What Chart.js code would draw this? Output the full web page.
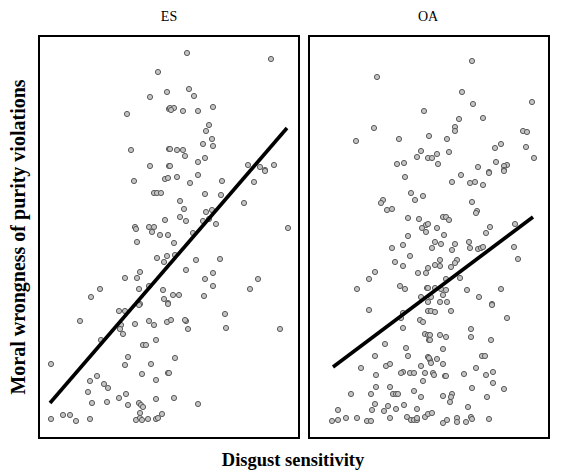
<!DOCTYPE html>
<html>
<head>
<meta charset="utf-8">
<script src="https://cdn.jsdelivr.net/npm/chart.js@4.4.1/dist/chart.umd.min.js"></script>
<style>
  body { margin: 0; background: #fff; width: 568px; height: 472px; position: relative; overflow: hidden; font-family: "Liberation Serif", "Times New Roman", serif; }
  .panel { position: absolute; top: 35px; height: 400px; border: 2px solid #000; }
  .panel canvas { display: block; }
  .title { position: absolute; top: 9px; font-size: 14px; text-align: center; width: 100px; }
  #ylab { position: absolute; left: 18px; top: 237px; font-size: 20px; font-weight: bold; white-space: nowrap;
          transform: translate(-50%, -50%) rotate(-90deg); }
  #xlab { position: absolute; left: 0; width: 586px; top: 450px; font-size: 18.5px; font-weight: bold; text-align: center; }
</style>
</head>
<body>
<div class="title" style="left:119px">ES</div>
<div class="title" style="left:378px">OA</div>
<div class="panel" style="left:38px;width:258px"><canvas id="esChart" width="258" height="400"></canvas></div>
<div class="panel" style="left:308px;width:238px"><canvas id="oaChart" width="238" height="400"></canvas></div>
<div id="ylab">Moral wrongness of purity violations</div>
<div id="xlab">Disgust sensitivity</div>
<script>
// values, in picture units (x grows right, y grows down)
const esX = [158,167,150,169,127,131,169,150,169,187,271,189,194,170,174,171,183,198,213,209,206,212,203,213,170,177,183,185,170,198,205,248,260,265,274,
  134,165,168,154,157,161,135,136,149,154,152,160,165,168,137,157,164,167,140,137,125,139,149,100,91,163,164,140,168,
  177,198,190,222,265,254,205,221,244,180,184,206,212,180,186,203,209,216,288,193,174,175,196,220,186,213,205,213,258,250,173,179,204,168,
  119,125,139,80,121,120,123,135,149,154,167,101,143,146,156,128,125,51,151,97,142,168,90,104,108,156,88,126,119,107,92,128,139,141,143,156,51,63,70,76,90,140,136,140,142,148,156,158,162,
  171,186,185,188,225,226,280,175,169,174,198];
const esY = [72,92,97,109,114,150,149,166,166,53,59,89,96,108,108,110,111,111,107,125,131,139,144,146,149,150,150,156,166,162,158,165,167,170,165,
  181,179,178,193,193,193,227,229,227,227,232,235,220,235,242,258,262,256,272,278,278,289,286,289,297,290,299,304,303,
  177,175,183,181,171,182,194,195,203,201,209,212,210,217,221,221,219,224,228,233,243,255,260,259,270,273,279,286,279,289,295,295,296,304,
  311,311,305,321,325,329,334,324,321,325,322,340,345,345,340,357,365,364,364,376,374,373,381,384,388,380,392,394,398,402,403,405,403,405,407,399,419,415,415,421,419,413,420,418,420,419,419,418,414,
  320,321,320,329,314,328,329,358,373,398,404];
const esLineX = [50, 287];
const esLineY = [403, 128];

const oaX = [377,424,374,356,399,429,421,417,428,397,404,
  472,462,473,532,459,483,455,455,447,523,527,501,495,526,449,437,432,438,534,478,496,507,504,504,489,
  405,411,415,423,383,381,387,392,408,419,426,422,426,408,392,403,410,395,403,428,375,369,418,426,357,400,405,427,421,428,
  461,489,504,452,470,475,483,472,477,476,443,446,449,428,437,490,515,444,486,435,441,432,455,469,470,452,478,481,483,514,518,440,457,455,435,440,451,446,460,435,441,446,428,467,501,443,479,431,440,447,492,
  369,403,401,428,420,423,403,425,428,429,385,406,375,408,428,430,361,386,390,421,403,401,410,414,425,376,423,376,390,393,396,398,414,421,371,351,375,388,372,384,396,404,417,338,332,338,346,357,367,371,390,407,411,414,417,417,425,428,
  492,431,435,451,507,471,471,491,430,430,440,446,443,482,485,429,431,437,443,476,433,434,445,446,464,486,493,493,504,472,443,452,451,450,487,468,432,443,447,457,457,466,471,472,489];
const oaY = [77,111,128,141,139,136,151,157,158,164,163,
  61,92,104,102,119,118,127,131,139,131,132,144,148,147,152,154,158,164,158,167,162,165,166,170,172,
  177,193,200,196,200,203,210,209,218,219,225,228,232,236,248,245,256,262,266,268,272,279,273,273,289,286,289,288,297,302,
  175,173,171,182,183,182,185,202,211,213,217,217,220,224,228,227,224,235,233,242,244,248,244,242,248,250,249,248,247,247,259,260,260,263,265,266,267,279,278,288,289,290,288,290,289,295,297,297,302,302,304,
  310,313,318,311,320,322,328,334,335,340,344,348,356,356,357,360,368,366,364,366,372,373,373,373,373,375,381,387,387,394,394,394,391,397,394,394,404,406,410,411,409,405,409,410,421,420,418,418,421,421,418,417,420,420,420,418,417,414,
  305,311,312,311,318,329,337,340,335,340,335,337,349,356,356,358,363,359,364,368,373,375,376,376,374,375,372,383,389,388,396,394,397,402,397,407,413,423,420,418,422,422,417,419,419];
const oaLineX = [333, 533];
const oaLineY = [367, 217];

function toPoints(xs, ys) {
  return xs.map((x, i) => ({ x: x, y: ys[i] }));
}

function createPanel(id, xs, ys, lineX, lineY, xMin, xMax) {
  const ctx = document.getElementById(id);
  return new Chart(ctx, {
    type: "scatter",
    data: {
      datasets: [
        {
          label: "Participants",
          data: toPoints(xs, ys),
          pointRadius: 2.6,
          pointBorderWidth: 1,
          pointBackgroundColor: "#c4c4c4",
          pointBorderColor: "#5a5a5a",
          order: 2,
        },
        {
          label: "Fit",
          type: "line",
          data: toPoints(lineX, lineY),
          borderColor: "#000",
          borderWidth: 3.6,
          pointRadius: 0,
          fill: false,
          order: 1,
        },
      ],
    },
    options: {
      responsive: false,
      animation: false,
      layout: { padding: 0, autoPadding: false },
      plugins: { legend: { display: false }, tooltip: { enabled: false } },
      scales: {
        x: { display: false, min: xMin, max: xMax },
        y: { display: false, min: 37, max: 437, reverse: true },
      },
    },
  });
}

createPanel("esChart", esX, esY, esLineX, esLineY, 40, 298);
createPanel("oaChart", oaX, oaY, oaLineX, oaLineY, 310, 548);
</script>
</body>
</html>
